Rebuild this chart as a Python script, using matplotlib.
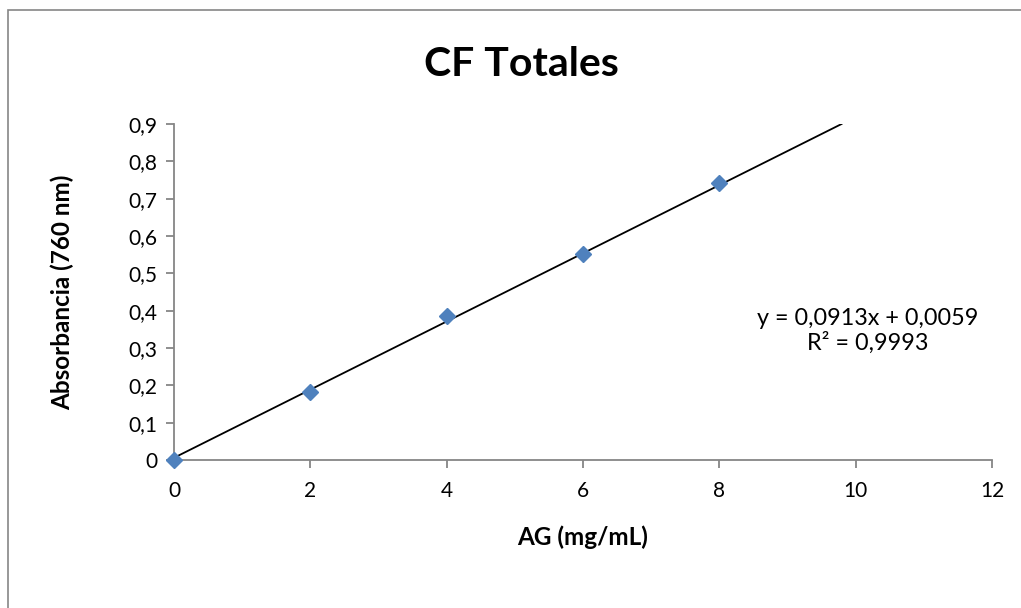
import numpy as np
import matplotlib.pyplot as plt
from matplotlib.patches import Rectangle

# Data (calibration points)
conc = [0, 2, 4, 6, 8]
absorb = [0.0, 0.183, 0.386, 0.553, 0.742]
slope, intercept = 0.0913, 0.0059
eq_text = "y = 0,0913x + 0,0059\nR² = 0,9993"
x_ticks = [0, 2, 4, 6, 8, 10, 12]
y_ticks = [0, 0.1, 0.2, 0.3, 0.4, 0.5, 0.6, 0.7, 0.8, 0.9]

plt.rcParams['font.family'] = ['Lato', 'DejaVu Sans']

fig = plt.figure(figsize=(10.21, 6.08), dpi=100)
ax = fig.add_axes([174/1021, 1 - 460/608, (992 - 174)/1021, (460 - 124)/608])

# outer chart border
fig.patches.append(Rectangle((8/1021, -0.1), 1.2, 1 - 10/608 + 0.1, transform=fig.transFigure,
                             fill=False, edgecolor='#868686', lw=1.2))

# trendline clipped to plot area
x_end = (0.9 - intercept) / slope
xt = np.array([0, x_end])
ax.plot(xt, slope * xt + intercept, color='black', lw=1.3, zorder=2)
ax.plot(conc, absorb, 'D', color='#4F81BD', ms=8.5, zorder=3, clip_on=False)

ax.set_xlim(0, 12)
ax.set_ylim(0, 0.9)
ax.set_xticks(x_ticks)
ax.set_yticks(y_ticks)
ax.set_xticklabels([str(t) for t in x_ticks])
ax.set_yticklabels(['0'] + [f"{t:.1f}".replace('.', ',') for t in y_ticks[1:]])

for s in ['top', 'right']:
    ax.spines[s].set_visible(False)
for s in ['left', 'bottom']:
    ax.spines[s].set_color('#868686')
    ax.spines[s].set_linewidth(1.3)
ax.tick_params(colors='#868686', labelcolor='black', labelsize=15, length=6, width=1.3, direction='out')
ax.tick_params(axis='x', pad=9)
ax.tick_params(axis='y', pad=6)

ax.set_xlabel("AG (mg/mL)", fontsize=17.5, fontweight='bold', labelpad=18)
ax.set_ylabel("Absorbancia (760 nm)", fontsize=17.5, fontweight='bold', labelpad=39)
fig.text(521/1021, 1 - 64/608, "CF Totales", fontsize=29.5, fontweight='bold', ha='center', va='center')

ax.text(10.17, 0.408, eq_text, fontsize=16.8, ha='center', va='top', linespacing=1.15)

fig.savefig("out.png", dpi=100)
